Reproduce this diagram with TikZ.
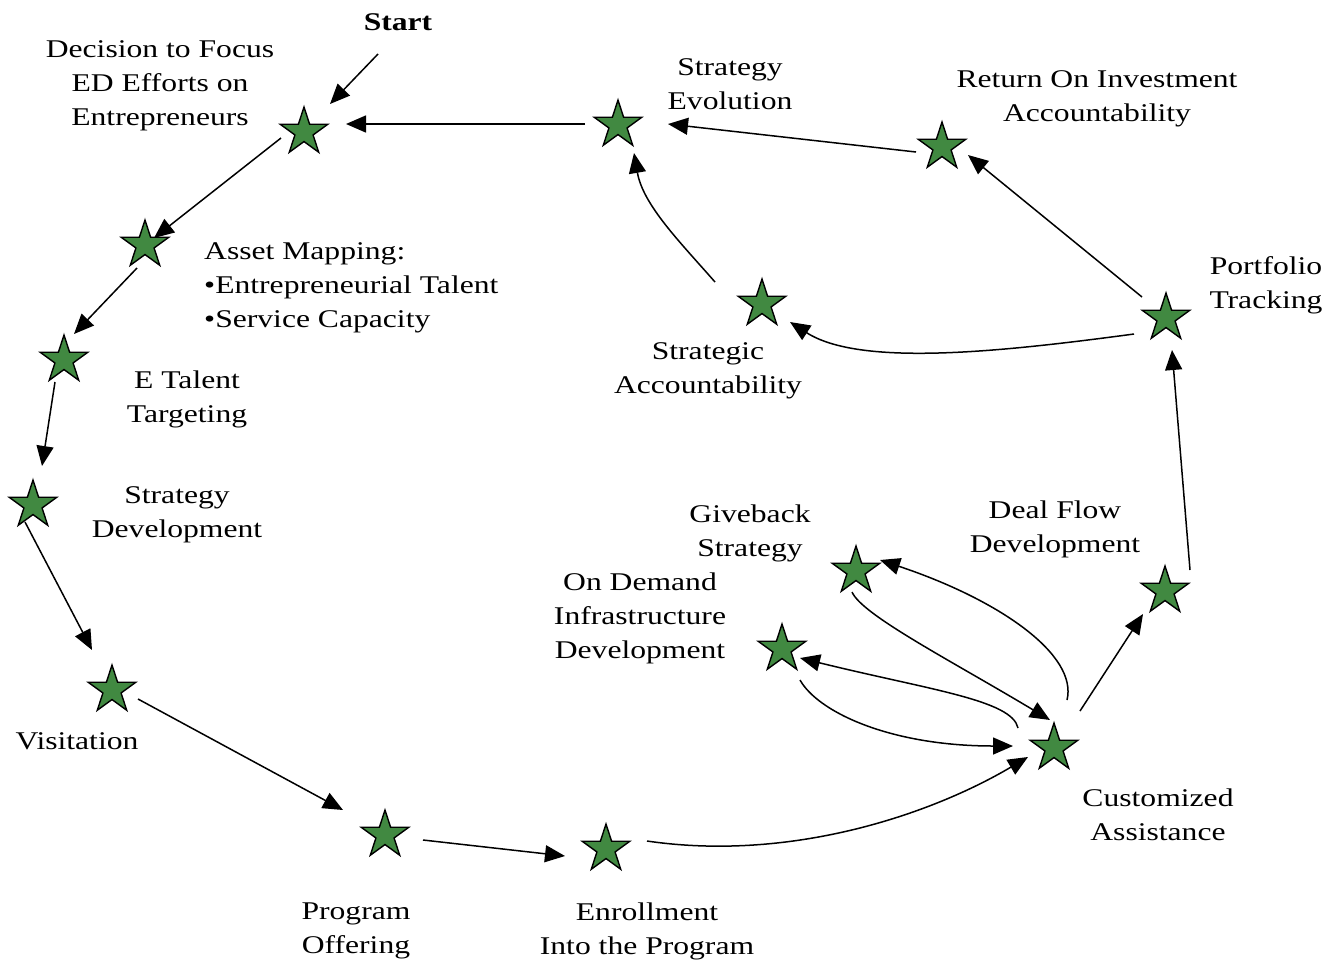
\documentclass[tikz,border=0pt]{standalone}
\usepackage{fontspec}
\setmainfont{Liberation Serif}[FakeStretch=1.24]
\usetikzlibrary{shapes.geometric,arrows.meta}
\definecolor{stargreen}{RGB}{65,137,65}
\tikzset{
  st/.style={star, star points=5, star point ratio=2.618, minimum size=50pt, inner sep=0pt,
    draw=black, line width=1.4pt, fill=stargreen},
  lbl/.style={align=center, inner sep=0pt, font=\fontsize{25.5}{34}\selectfont},
  arr/.style={line width=1.5pt, -{Triangle[length=20pt,width=17pt]}},
}
\begin{document}
\begin{tikzpicture}[x=1pt,y=-1pt]
\useasboundingbox (0,0) rectangle (1338,962);
% stars
\node[st] (s1) at (304,132) {};
\node[st] (s2) at (145,245) {};
\node[st] (s3) at (64,360) {};
\node[st] (s4) at (33,505) {};
\node[st] (s5) at (112,690) {};
\node[st] (s6) at (385,835) {};
\node[st] (s7) at (606,849) {};
\node[st] (s8) at (1054,748) {};
\node[st] (s9) at (1165,591) {};
\node[st] (s10) at (1166,318) {};
\node[st] (s11) at (942,147) {};
\node[st] (s12) at (618,125) {};
\node[st] (s13) at (762,304) {};
\node[st] (s14) at (856,571) {};
\node[st] (s15) at (782,649) {};
% labels
\node[lbl, font=\fontsize{25.5}{34}\selectfont\bfseries] (start) at (398,22) {Start};
\node[lbl] (l1) at (160,86) {Decision to Focus\\ED Efforts on\\Entrepreneurs};
\node[lbl, align=left, anchor=west] (l2) at (204,288) {Asset Mapping:\\•Entrepreneurial Talent\\•Service Capacity};
\node[lbl] (l3) at (187,399) {E Talent\\Targeting};
\node[lbl] (l4) at (177,515) {Strategy\\Development};
\node[lbl] (l5) at (77,741) {Visitation};
\node[lbl] (l6) at (356,931) {Program\\Offering};
\node[lbl] (l7) at (647,931) {Enrollment\\Into the Program};
\node[lbl] (l8) at (1158,815) {Customized\\Assistance};
\node[lbl] (l9) at (1055,529) {Deal Flow\\Development};
\node[lbl] (l10) at (1266,285) {Portfolio\\Tracking};
\node[lbl] (l11) at (1097,99) {Return On Investment\\Accountability};
\node[lbl] (l12) at (730,84) {Strategy\\Evolution};
\node[lbl] (l13) at (708,371) {Strategic\\Accountability};
\node[lbl] (l14) at (750,533) {Giveback\\Strategy};
\node[lbl] (l15) at (640,618) {On Demand\\Infrastructure\\Development};
% connectors
\draw[arr] ([shift={(-20,32)}]start.center) -- ([shift={(26,-28)}]s1.center);
\draw[arr] ([shift={(-33,-1)}]s12.center) -- ([shift={(42,-8)}]s1.center);
\draw[arr] ([shift={(-23,6)}]s1.center) -- ([shift={(9,-7)}]s2.center);
\draw[arr] ([shift={(-8,23)}]s2.center) -- ([shift={(10,-26)}]s3.center);
\draw[arr] ([shift={(-9,22)}]s3.center) -- ([shift={(9,-39)}]s4.center);
\draw[arr] ([shift={(-8,17)}]s4.center) -- ([shift={(-20,-40)}]s5.center);
\draw[arr] ([shift={(26,9)}]s5.center) -- ([shift={(-42,-25)}]s6.center);
\draw[arr] ([shift={(38,5)}]s6.center) -- ([shift={(-41,7)}]s7.center);
\draw[arr] ([shift={(41,-8)}]s7.center) .. controls (790,862) and (930,815) .. ([shift={(-26,9)}]s8.center);
\draw[arr] ([shift={(26,-37)}]s8.center) -- ([shift={(-22,23)}]s9.center);
\draw[arr] ([shift={(25,-21)}]s9.center) -- ([shift={(6,32)}]s10.center);
\draw[arr] ([shift={(-24,-21)}]s10.center) -- ([shift={(26,8)}]s11.center);
\draw[arr] ([shift={(-26,5)}]s11.center) -- ([shift={(50,-1)}]s12.center);
\draw[arr] ([shift={(-32,16)}]s10.center) .. controls (1000,352) and (860,367) .. ([shift={(28,18)}]s13.center);
\draw[arr] ([shift={(-47,-22)}]s13.center) .. controls (680,242) and (643,205) .. ([shift={(16,28)}]s12.center);
\draw[arr] ([shift={(-4,21)}]s14.center) .. controls (862,615) and (950,660) .. ([shift={(-4,-28)}]s8.center);
\draw[arr] ([shift={(13,-48)}]s8.center) .. controls (1078,655) and (1000,600) .. ([shift={(24,-11)}]s14.center);
\draw[arr] ([shift={(-36,-20)}]s8.center) .. controls (1012,700) and (930,690) .. ([shift={(18,9)}]s15.center);
\draw[arr] ([shift={(18,31)}]s15.center) .. controls (818,712) and (890,746) .. ([shift={(-41,-2)}]s8.center);
\end{tikzpicture}
\end{document}
